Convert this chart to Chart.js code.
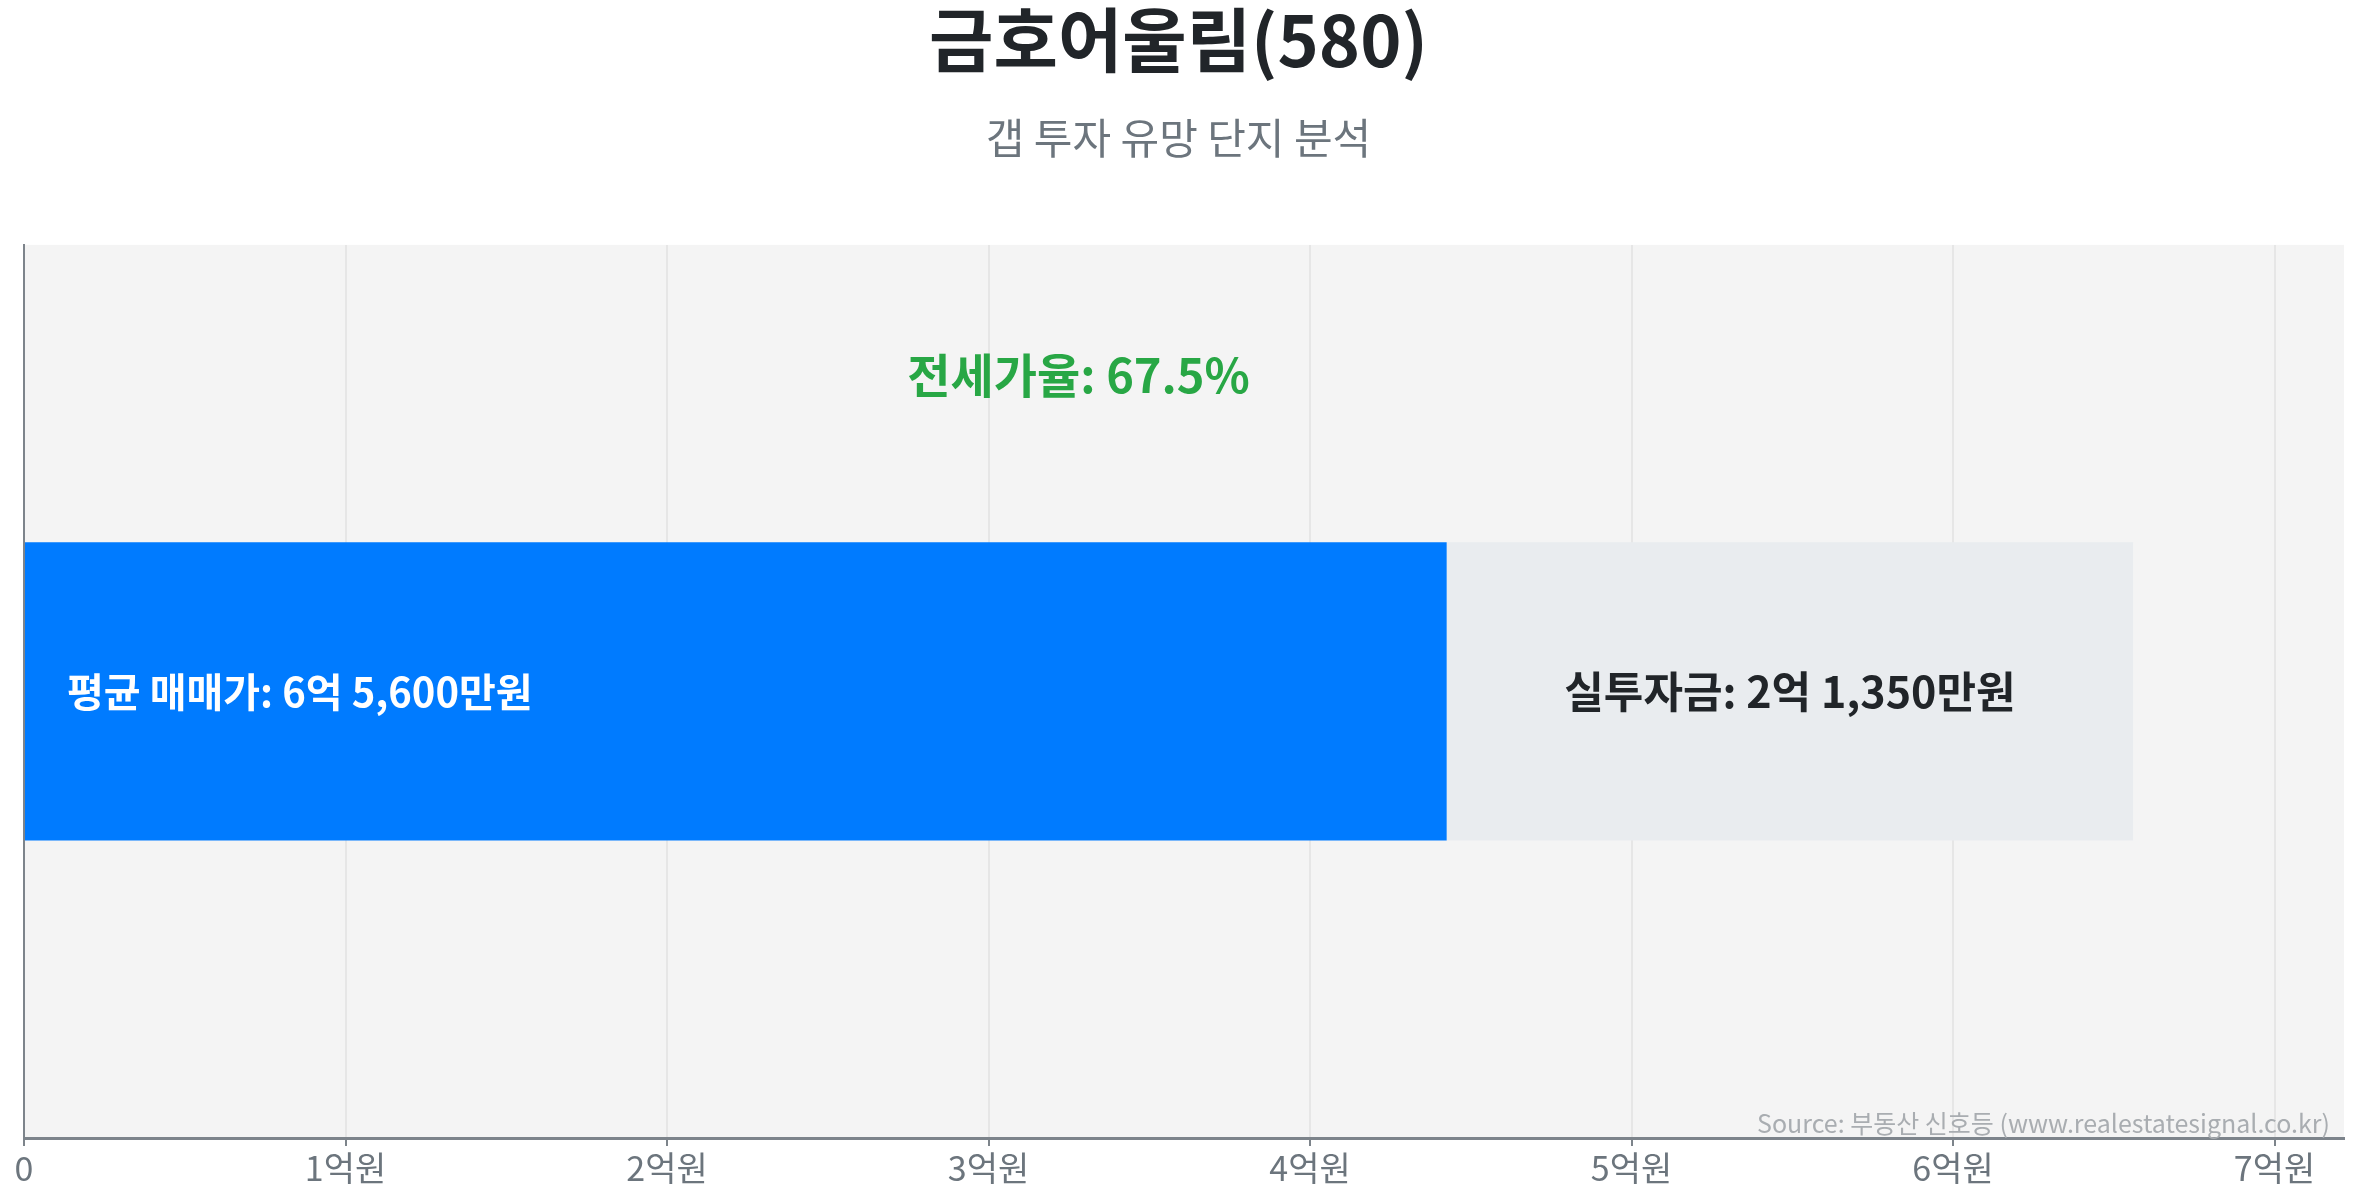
<!DOCTYPE html>
<html>
<head>
<meta charset="utf-8">
<script src="https://cdn.jsdelivr.net/npm/chart.js@4.4.1/dist/chart.umd.min.js"></script>
<style>
  html, body { margin: 0; padding: 0; background: #ffffff; }
  #wrap { width: 2357px; height: 1201px; position: relative; }
  canvas { display: block; }
</style>
</head>
<body>
<div id="wrap"><canvas id="c" width="2357" height="1201"></canvas></div>
<script>
// ---- data (values in 만원) ----
const categories = ['금호어울림(580)'];
const jeonseValues = [44250];      // 전세가
const gapValues = [21350];         // 실투자금
const salePrice = [65600];         // 평균 매매가
const jeonseRatio = [67.5];        // 전세가율 (%)
const tickValues = [0, 10000, 20000, 30000, 40000, 50000, 60000, 70000];
const tickLabels = ['0', '1억원', '2억원', '3억원', '4억원', '5억원', '6억원', '7억원'];
const axisMax = 72160;

const FONT = "'Noto Sans CJK KR', 'Noto Sans', sans-serif";

function fmtMan(v) {
  const eok = Math.floor(v / 10000);
  const man = v % 10000;
  let s = '';
  if (eok > 0) s += eok + '억';
  if (man > 0) s += (s ? ' ' : '') + man.toLocaleString('en-US') + '만원';
  else s += '원';
  return s;
}

const bgPlugin = {
  id: 'plotBg',
  beforeDraw(chart) {
    const { ctx, chartArea: a } = chart;
    ctx.save();
    ctx.fillStyle = '#f4f4f4';
    ctx.fillRect(a.left, a.top, a.right - a.left, a.bottom - a.top);
    ctx.restore();
  }
};

const labelPlugin = {
  id: 'barLabels',
  afterDatasetsDraw(chart) {
    const { ctx, chartArea: a, scales } = chart;
    const b0 = chart.getDatasetMeta(0).data[0];
    const b1 = chart.getDatasetMeta(1).data[0];
    ctx.save();
    ctx.textBaseline = 'middle';
    // blue segment label
    ctx.font = 'bold 40px ' + FONT;
    ctx.fillStyle = '#ffffff';
    ctx.textAlign = 'left';
    ctx.fillText('평균 매매가: ' + fmtMan(salePrice[0]), Math.min(b0.base, b0.x) + 42, b0.y);
    // gray segment label
    ctx.font = 'bold 43px ' + FONT;
    ctx.fillStyle = '#212529';
    ctx.textAlign = 'center';
    ctx.fillText('실투자금: ' + fmtMan(gapValues[0]), (b1.base + b1.x) / 2, b1.y);
    // ratio label
    ctx.font = 'bold 47px ' + FONT;
    ctx.fillStyle = '#28a745';
    const top = b0.y - b0.height / 2;
    ctx.fillText('전세가율: ' + jeonseRatio[0].toFixed(1) + '%', scales.x.getPixelForValue(salePrice[0] / 2), top - 167);
    // source
    ctx.font = '25px ' + FONT;
    ctx.fillStyle = '#a9adb1';
    ctx.textAlign = 'right';
    ctx.textBaseline = 'bottom';
    ctx.fillText('Source: 부동산 신호등 (www.realestatesignal.co.kr)', a.right - 14, a.bottom - 2);
    ctx.restore();
  }
};

new Chart(document.getElementById('c'), {
  type: 'bar',
  data: {
    labels: categories,
    datasets: [
      { label: '전세가', data: jeonseValues, backgroundColor: '#007bff', borderWidth: 0 },
      { label: '실투자금', data: gapValues, backgroundColor: '#e9ecef', borderWidth: 0 }
    ]
  },
  options: {
    responsive: false,
    animation: false,
    devicePixelRatio: 1,
    indexAxis: 'y',
    layout: { padding: { left: 13, right: 13, top: 0, bottom: 0 } },
    datasets: { bar: { categoryPercentage: 1.0, barPercentage: 0.334 } },
    plugins: {
      legend: { display: false },
      tooltip: { enabled: false },
      title: {
        display: true,
        text: categories[0],
        color: '#212529',
        font: { family: FONT, size: 70, weight: 'bold', lineHeight: 1.15 },
        padding: { top: 0, bottom: 0 }
      },
      subtitle: {
        display: true,
        text: '갭 투자 유망 단지 분석',
        color: '#6c757d',
        font: { family: FONT, size: 42, lineHeight: 1.2 },
        padding: { top: 32, bottom: 82 }
      }
    },
    scales: {
      x: {
        stacked: true,
        min: 0,
        max: axisMax,
        grid: { color: '#e6e6e6', lineWidth: 2, drawTicks: true, tickLength: 8, tickColor: '#7d848b', tickWidth: 2 },
        border: { display: true, color: '#7d848b', width: 3 },
        afterBuildTicks: (s) => { s.ticks = tickValues.map(v => ({ value: v })); },
        ticks: {
          autoSkip: false,
          maxRotation: 0,
          color: '#6c757d',
          padding: 2,
          font: { family: FONT, size: 34 },
          callback: (v, i) => tickLabels[i]
        },
        afterFit: (s) => { s.height = 63; }
      },
      y: {
        stacked: true,
        grid: { display: false },
        border: { display: true, color: '#7d848b', width: 2 },
        ticks: { display: false },
        afterFit: (s) => { s.width = 11; }
      }
    }
  },
  plugins: [bgPlugin, labelPlugin]
});
</script>
</body>
</html>
